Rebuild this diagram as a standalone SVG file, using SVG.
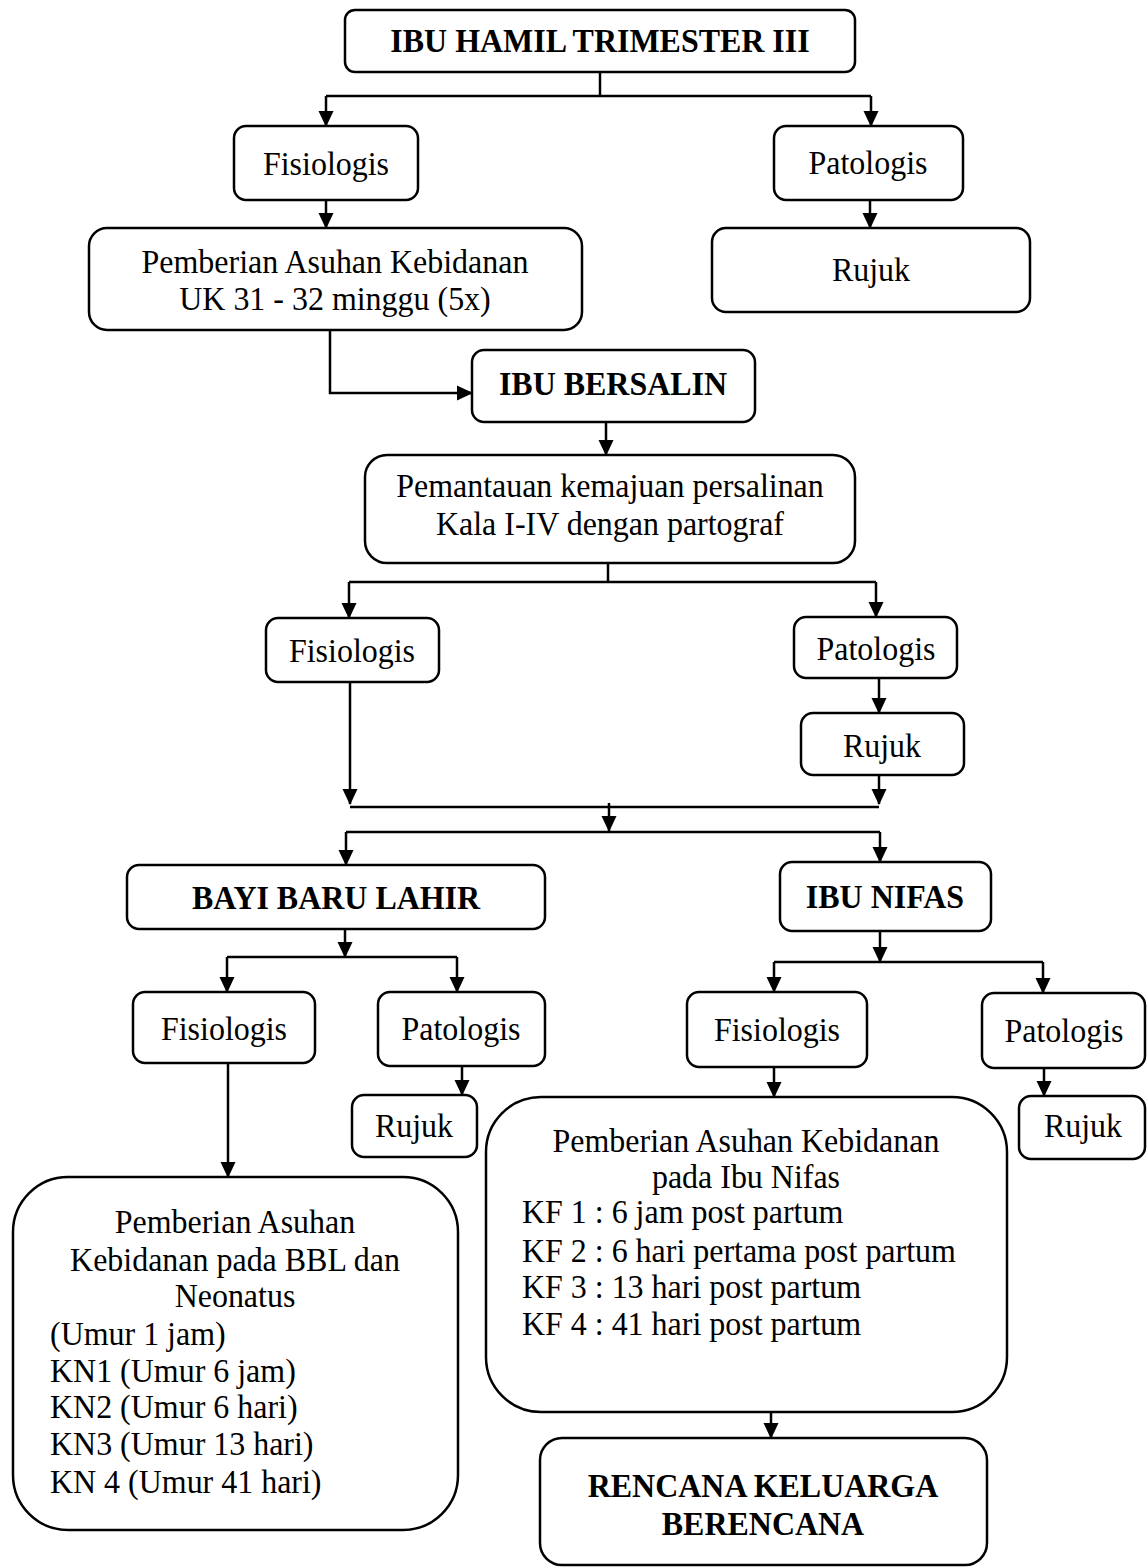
<svg xmlns="http://www.w3.org/2000/svg" width="1147" height="1567" viewBox="0 0 1147 1567">
<style>
.box{fill:#fff;stroke:#000;stroke-width:2.5}
.t{font-family:"Liberation Serif","Times New Roman",serif;font-size:34px;fill:#000;transform:scaleX(0.94);transform-box:fill-box;transform-origin:0% 50%}
.c{text-anchor:middle;transform-origin:50% 50%}
.b{font-weight:bold}
.ln{fill:none;stroke:#000;stroke-width:2.5}
.ar{fill:none;stroke:#000;stroke-width:2.5;marker-end:url(#ah)}
</style>
<defs>
<marker id="ah" markerUnits="userSpaceOnUse" markerWidth="16" markerHeight="16" viewBox="0 0 16 16" refX="15" refY="8" orient="auto">
<path d="M0,0.5 L16,8 L0,15.5 z" fill="#000"/>
</marker>
</defs>
<rect width="1147" height="1567" fill="#fff"/>
<g id="connectors">
<path class="ln" d="M600,72 V96"/>
<path class="ln" d="M326,96 H871"/>
<path class="ar" d="M326,96 V126"/>
<path class="ar" d="M871,96 V126"/>
<path class="ar" d="M326,200 V228"/>
<path class="ar" d="M870,200 V228"/>
<path class="ar" d="M330,330 V393 H472"/>
<path class="ar" d="M606,422 V455"/>
<path class="ln" d="M608,563 V582"/>
<path class="ln" d="M349,582 H876"/>
<path class="ar" d="M349,582 V618"/>
<path class="ar" d="M876,582 V617"/>
<path class="ar" d="M350,682 V804"/>
<path class="ar" d="M879,678 V713"/>
<path class="ar" d="M879,775 V804"/>
<path class="ln" d="M350,807 H879"/>
<path class="ar" d="M609,803 V831"/>
<path class="ln" d="M346,832 H880"/>
<path class="ar" d="M346,832 V865"/>
<path class="ar" d="M880,832 V862"/>
<path class="ar" d="M345,929 V957"/>
<path class="ln" d="M227,957 H457"/>
<path class="ar" d="M227,957 V992"/>
<path class="ar" d="M457,957 V992"/>
<path class="ar" d="M880,931 V962"/>
<path class="ln" d="M774,962 H1043"/>
<path class="ar" d="M774,962 V992"/>
<path class="ar" d="M1043,962 V993"/>
<path class="ar" d="M462,1066 V1095"/>
<path class="ar" d="M228,1063 V1177"/>
<path class="ar" d="M774,1067 V1097"/>
<path class="ar" d="M1044,1068 V1096"/>
<path class="ar" d="M771,1412 V1438"/>
</g>
<g id="n_ibu_hamil"><rect class="box" x="345" y="10" width="510" height="62" rx="10"/><text class="t c b" x="600" y="52">IBU HAMIL TRIMESTER III</text></g>
<g id="n_fisiologis1"><rect class="box" x="234" y="126" width="184" height="74" rx="12"/><text class="t c" x="326" y="175">Fisiologis</text></g>
<g id="n_patologis1"><rect class="box" x="774" y="126" width="189" height="74" rx="12"/><text class="t c" x="868" y="174">Patologis</text></g>
<g id="n_asuhan_hamil"><rect class="box" x="89" y="228" width="493" height="102" rx="18"/><text class="t c" x="335" y="273">Pemberian Asuhan Kebidanan</text><text class="t c" x="335" y="310">UK 31 - 32 minggu (5x)</text></g>
<g id="n_rujuk1"><rect class="box" x="712" y="228" width="318" height="84" rx="14"/><text class="t c" x="871" y="281">Rujuk</text></g>
<g id="n_bersalin"><rect class="box" x="472" y="350" width="283" height="72" rx="12"/><text class="t c b" x="613" y="395">IBU BERSALIN</text></g>
<g id="n_pemantauan"><rect class="box" x="365" y="455" width="490" height="108" rx="22"/><text class="t c" x="610" y="497">Pemantauan kemajuan persalinan</text><text class="t c" x="610" y="535">Kala I-IV dengan partograf</text></g>
<g id="n_fisiologis2"><rect class="box" x="266" y="618" width="173" height="64" rx="12"/><text class="t c" x="352" y="662">Fisiologis</text></g>
<g id="n_patologis2"><rect class="box" x="794" y="617" width="163" height="61" rx="12"/><text class="t c" x="876" y="660">Patologis</text></g>
<g id="n_rujuk2"><rect class="box" x="801" y="713" width="163" height="62" rx="12"/><text class="t c" x="882" y="757">Rujuk</text></g>
<g id="n_bayi"><rect class="box" x="127" y="865" width="418" height="64" rx="12"/><text class="t c b" x="336" y="909">BAYI BARU LAHIR</text></g>
<g id="n_nifas"><rect class="box" x="780" y="862" width="211" height="69" rx="12"/><text class="t c b" x="885" y="908">IBU NIFAS</text></g>
<g id="n_fisiologis3"><rect class="box" x="133" y="992" width="182" height="71" rx="12"/><text class="t c" x="224" y="1040">Fisiologis</text></g>
<g id="n_patologis3"><rect class="box" x="378" y="992" width="167" height="74" rx="12"/><text class="t c" x="461" y="1040">Patologis</text></g>
<g id="n_rujuk3"><rect class="box" x="352" y="1095" width="125" height="62" rx="12"/><text class="t c" x="414" y="1137">Rujuk</text></g>
<g id="n_fisiologis4"><rect class="box" x="687" y="992" width="180" height="75" rx="12"/><text class="t c" x="777" y="1041">Fisiologis</text></g>
<g id="n_patologis4"><rect class="box" x="982" y="993" width="163" height="75" rx="12"/><text class="t c" x="1064" y="1042">Patologis</text></g>
<g id="n_rujuk4"><rect class="box" x="1019" y="1096" width="126" height="63" rx="12"/><text class="t c" x="1083" y="1137">Rujuk</text></g>
<g id="n_asuhan_bbl"><rect class="box" x="13" y="1177" width="445" height="353" rx="55"/>
<text class="t c" x="235" y="1233">Pemberian Asuhan</text>
<text class="t c" x="235" y="1271">Kebidanan pada BBL dan</text>
<text class="t c" x="235" y="1307">Neonatus</text>
<text class="t" x="50" y="1345">(Umur 1 jam)</text>
<text class="t" x="50" y="1382">KN1 (Umur 6 jam)</text>
<text class="t" x="50" y="1418">KN2 (Umur 6 hari)</text>
<text class="t" x="50" y="1455">KN3 (Umur 13 hari)</text>
<text class="t" x="50" y="1493">KN 4 (Umur 41 hari)</text>
</g>
<g id="n_asuhan_nifas"><rect class="box" x="486" y="1097" width="521" height="315" rx="55"/>
<text class="t c" x="746" y="1152">Pemberian Asuhan Kebidanan</text>
<text class="t c" x="746" y="1188">pada Ibu Nifas</text>
<text class="t" x="522" y="1223">KF 1 : 6 jam post partum</text>
<text class="t" x="522" y="1262">KF 2 : 6 hari pertama post partum</text>
<text class="t" x="522" y="1298">KF 3 : 13 hari post partum</text>
<text class="t" x="522" y="1335">KF 4 : 41 hari post partum</text>
</g>
<g id="n_kb"><rect class="box" x="540" y="1438" width="447" height="127" rx="22"/><text class="t c b" x="763" y="1497">RENCANA KELUARGA</text><text class="t c b" x="763" y="1535">BERENCANA</text></g>
</svg>
